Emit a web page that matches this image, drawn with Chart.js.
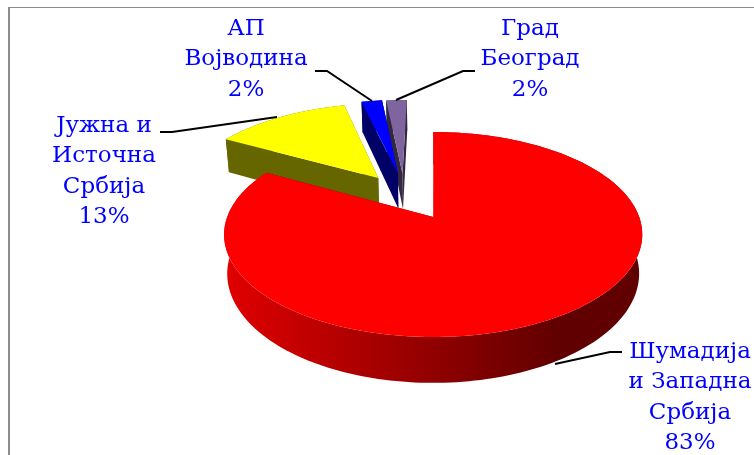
<!DOCTYPE html>
<html>
<head>
<meta charset="utf-8">
<style>
  html, body { margin: 0; padding: 0; background: #fff; }
  canvas { display: block; }
</style>
<script src="https://cdn.jsdelivr.net/npm/chart.js@4"></script>
</head>
<body>
<canvas id="pie" width="754" height="455"></canvas>
<script>
// data
const regions = [
  ["Шумадија", "и Западна", "Србија"],
  ["Јужна и", "Источна", "Србија"],
  ["АП", "Војводина"],
  ["Град", "Београд"]
];
const shares = [83, 13, 2, 2];

// colours
const topColors = ["#ff0000", "#ffff00", "#0000ff", "#7f659f"];
const sideColors = ["#660000", "#666600", "#000066", "#332840"];

// per slice: explode offset on the pie plane (radius = 1), label centre x / first line y, leader line
const explode = [[-0.004, 0], [-0.29, 0.42], [-0.19, 0.475], [-0.165, 0.47]];
const labelPos = [[690, 358], [104, 132], [246, 35], [530, 35]];
const leaders = [
  [[622, 352], [610, 352], [555, 364]],
  [[160, 132], [172, 132], [277, 117]],
  [[315, 71], [327, 71], [372, 101]],
  [[475, 71], [463, 71], [396, 100]]
];

// camera: pie centre on screen, perspective and extrusion
const CX = 434, CY = 217, FX = 206, FY = 99.5, PERSP = 0.171, DEPTH = 38, BOTTOM_SHRINK = 0.985;
const LINE_H = 30.4;

function project(X, Y, low) {
  const w = 1 + PERSP * Y;
  let x = FX * X / w;
  let y = CY - FY * Y / w;
  if (low) {
    x *= BOTTOM_SHRINK;
    y += DEPTH / w;
  }
  return [CX + x, y];
}

function fillPoly(ctx, pts, color) {
  ctx.beginPath();
  pts.forEach((p, i) => i ? ctx.lineTo(p[0], p[1]) : ctx.moveTo(p[0], p[1]));
  ctx.closePath();
  ctx.fillStyle = color;
  ctx.fill();
}

// draws the arcs Chart.js laid out as extruded slices in perspective
const pie3d = {
  id: "pie3d",
  beforeDatasetsDraw(chart) {
    const ctx = chart.ctx;
    const arcs = chart.getDatasetMeta(0).data;
    ctx.save();

    const redSide = ctx.createLinearGradient(226, 0, 560, 0);
    redSide.addColorStop(0, "#e00000");
    redSide.addColorStop(1, "#600000");

    [3, 2, 1, 0].forEach(i => {
      const arc = arcs[i];
      const [ox, oy] = explode[i];
      const steps = Math.max(4, Math.ceil((arc.endAngle - arc.startAngle) * 40));
      const rim = [];
      for (let s = 0; s <= steps; s++) {
        const a = arc.startAngle + (arc.endAngle - arc.startAngle) * s / steps;
        rim.push([ox + Math.cos(a), oy - Math.sin(a)]);
      }
      const side = i === 0 ? redSide : sideColors[i];
      const first = rim[0], last = rim[rim.length - 1];

      // cut faces
      fillPoly(ctx, [project(ox, oy), project(first[0], first[1]), project(first[0], first[1], true), project(ox, oy, true)], sideColors[i]);
      fillPoly(ctx, [project(ox, oy), project(last[0], last[1]), project(last[0], last[1], true), project(ox, oy, true)], sideColors[i]);

      // outer wall
      const wall = rim.map(p => project(p[0], p[1]));
      rim.slice().reverse().forEach(p => wall.push(project(p[0], p[1], true)));
      fillPoly(ctx, wall, side);

      // top face
      fillPoly(ctx, [project(ox, oy)].concat(rim.map(p => project(p[0], p[1]))), topColors[i]);
    });

    ctx.restore();
    return false;
  },
  afterDraw(chart) {
    const ctx = chart.ctx;
    ctx.save();

    // frame
    ctx.fillStyle = "#8c8c8c";
    ctx.fillRect(8, 7, 746, 1);
    ctx.fillRect(8, 7, 2, 448);

    // leader lines
    ctx.strokeStyle = "#000";
    ctx.lineWidth = 2;
    leaders.forEach(l => {
      ctx.beginPath();
      l.forEach((p, i) => i ? ctx.lineTo(p[0], p[1]) : ctx.moveTo(p[0], p[1]));
      ctx.stroke();
    });

    // labels
    ctx.fillStyle = "#0000ff";
    ctx.font = "23px 'DejaVu Serif'";
    ctx.textAlign = "center";
    ctx.textBaseline = "alphabetic";
    regions.forEach((lines, i) => {
      lines.concat(shares[i] + "%").forEach((txt, n) => {
        ctx.fillText(txt, labelPos[i][0], labelPos[i][1] + n * LINE_H);
      });
    });
    ctx.restore();
  }
};

new Chart(document.getElementById("pie"), {
  type: "pie",
  data: {
    labels: regions.map(r => r.join(" ")),
    datasets: [{ data: shares, backgroundColor: topColors, borderWidth: 0 }]
  },
  options: {
    responsive: false,
    animation: false,
    plugins: { legend: { display: false }, tooltip: { enabled: false } }
  },
  plugins: [pie3d]
});
</script>
</body>
</html>
